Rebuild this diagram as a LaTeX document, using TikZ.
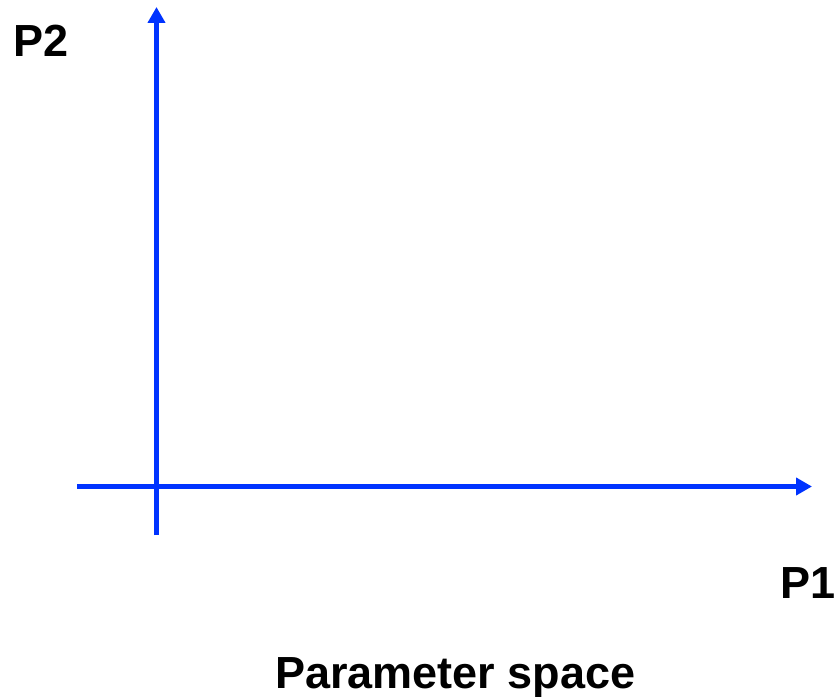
\documentclass[tikz,border=0pt]{standalone}
\usepackage{fontspec}
\setmainfont{Liberation Sans}
\usetikzlibrary{arrows.meta}
\definecolor{axisblue}{RGB}{0,51,255}
\begin{document}
\begin{tikzpicture}[x=1pt,y=1pt,
  axis/.style={draw=axisblue,line width=5pt,-{Triangle[length=16pt,width=17pt]}},
  lbl/.style={font=\fontsize{45}{50}\selectfont\bfseries,inner sep=0pt,anchor=base west}]
\useasboundingbox (0,0) rectangle (837,696);
\coordinate (vstart) at (156.5,161);
\coordinate (vend) at (156.5,689);
\coordinate (hstart) at (77,209.5);
\coordinate (hend) at (812,209.5);
\draw[axis] (vstart) -- (vend);
\draw[axis] (hstart) -- (hend);
\node[lbl] (p2) at (13,639) {P2};
\node[lbl] (p1) at (780,98) {P1};
\node[lbl,anchor=base] (ps) at (455.5,8) {Parameter space};
\end{tikzpicture}
\end{document}
